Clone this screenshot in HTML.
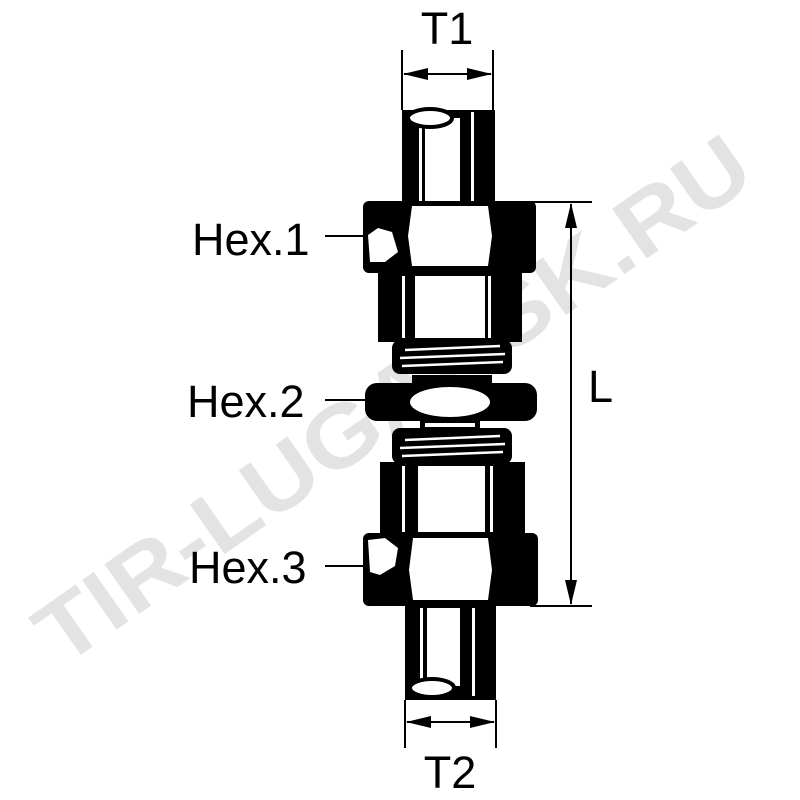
<!DOCTYPE html>
<html><head><style>
html,body{margin:0;padding:0;background:#fff;width:800px;height:800px;overflow:hidden}
svg{display:block}
text{font-family:"Liberation Sans",sans-serif}
</style></head><body>
<svg width="800" height="800" viewBox="0 0 800 800">
<!-- watermark -->
<text x="0" y="0" transform="translate(62,668) rotate(-35)" font-size="88" font-weight="bold" fill="#e3e3e3" textLength="850" lengthAdjust="spacingAndGlyphs">TIR-LUGANSK.RU</text>

<g fill="#000" stroke="none">
<!-- top tube -->
<rect x="402" y="110" width="93" height="92"/>
<rect x="419" y="115" width="3" height="87" fill="#fff"/>
<rect x="425" y="118" width="35" height="84" fill="#fff"/>
<rect x="471" y="112" width="3" height="90" fill="#fff"/>
<ellipse cx="430" cy="118" rx="22" ry="9" fill="#fff" stroke="#000" stroke-width="4"/>

<!-- hex1 -->
<rect x="363" y="201" width="173" height="72" rx="6"/>
<path d="M412 206 L488 206 L492 236 L488 266 L412 266 L408 236 Z" fill="#fff"/>
<path d="M368 235 L378 228 L392 232 L398 252 L385 262 L370 262 Z" fill="#fff"/>

<!-- body upper -->
<rect x="378" y="272" width="144" height="70"/>
<rect x="402" y="276" width="3" height="62" fill="#fff"/>
<rect x="415" y="276" width="70" height="62" fill="#fff"/>
<rect x="488" y="276" width="3" height="62" fill="#fff"/>

<!-- thread 1 -->
<rect x="392" y="340" width="120" height="34" rx="8"/>
<g stroke="#fff" stroke-width="2.5">
<line x1="405" y1="350" x2="500" y2="346"/>
<line x1="400" y1="358" x2="505" y2="354"/>
<line x1="402" y1="366" x2="503" y2="362"/>
</g>
<rect x="412" y="375" width="80" height="10"/>

<!-- hex2 -->
<rect x="365" y="383" width="172" height="38" rx="12"/>
<ellipse cx="450" cy="402" rx="40" ry="15" fill="#fff"/>
<rect x="420" y="421" width="60" height="8"/>
<rect x="425" y="423" width="50" height="4" fill="#fff"/>

<!-- thread 2 -->
<rect x="392" y="428" width="120" height="36" rx="8"/>
<g stroke="#fff" stroke-width="2.5">
<line x1="405" y1="440" x2="500" y2="436"/>
<line x1="400" y1="448" x2="505" y2="444"/>
<line x1="402" y1="456" x2="503" y2="452"/>
</g>

<!-- body lower -->
<rect x="380" y="462" width="145" height="74"/>
<rect x="402" y="466" width="3" height="66" fill="#fff"/>
<rect x="418" y="466" width="67" height="66" fill="#fff"/>
<rect x="490" y="466" width="3" height="66" fill="#fff"/>

<!-- hex3 -->
<rect x="363" y="533" width="175" height="73" rx="6"/>
<path d="M413 538 L488 538 L492 570 L488 600 L413 600 L409 570 Z" fill="#fff"/>
<path d="M368 540 L385 538 L398 548 L395 566 L380 575 L370 572 Z" fill="#fff"/>

<!-- bottom tube -->
<rect x="405" y="605" width="91" height="95"/>
<rect x="420" y="608" width="3" height="85" fill="#fff"/>
<rect x="427" y="608" width="33" height="78" fill="#fff"/>
<rect x="472" y="608" width="3" height="88" fill="#fff"/>
<ellipse cx="432" cy="688" rx="22" ry="9" fill="#fff" stroke="#000" stroke-width="4"/>
</g>

<!-- dimensions -->
<g stroke="#000" stroke-width="2" fill="none">
<line x1="402" y1="50" x2="402" y2="110"/>
<line x1="493" y1="50" x2="493" y2="110"/>
<line x1="404" y1="74" x2="491" y2="74"/>
<line x1="405" y1="700" x2="405" y2="748"/>
<line x1="496" y1="700" x2="496" y2="748"/>
<line x1="407" y1="722" x2="494" y2="722"/>
<line x1="495" y1="202" x2="592" y2="202"/>
<line x1="530" y1="606" x2="592" y2="606"/>
<line x1="571" y1="204" x2="571" y2="604"/>
<line x1="325" y1="236" x2="365" y2="236"/>
<line x1="325" y1="400" x2="367" y2="400"/>
<line x1="325" y1="566" x2="365" y2="566"/>
</g>
<g fill="#000">
<path d="M403 74 L428 68 L428 80 Z"/>
<path d="M492 74 L467 68 L467 80 Z"/>
<path d="M406 722 L431 716 L431 728 Z"/>
<path d="M495 722 L470 716 L470 728 Z"/>
<path d="M571 203 L565 228 L577 228 Z"/>
<path d="M571 605 L565 580 L577 580 Z"/>
</g>

<g font-size="45" fill="#000">
<text x="447" y="44" text-anchor="middle">T1</text>
<text x="450" y="788" text-anchor="middle">T2</text>
<text x="588" y="402">L</text>
<text x="192" y="255">Hex.1</text>
<text x="187" y="417">Hex.2</text>
<text x="189" y="583">Hex.3</text>
</g>
</svg>
</body></html>
